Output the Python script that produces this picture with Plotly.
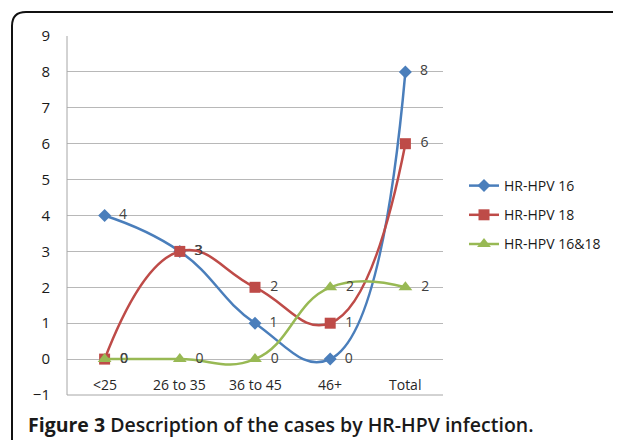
import plotly.graph_objects as go

categories = ["<25", "26 to 35", "36 to 45", "46+", "Total"]
hpv16 = [4, 3, 1, 0, 8]
hpv18 = [0, 3, 2, 1, 6]
hpv1618 = [0, 0, 0, 2, 2]
y_ticks = [-1, 0, 1, 2, 3, 4, 5, 6, 7, 8, 9]

# the page body has an 8px margin, so the figure is drawn 8px in from the corner
OFF = 8
W, H = 621 - OFF, 440 - OFF
L, R, T, B = 67 - OFF, 178, 36 - OFF, 45
pw, ph = W - L - R, H - T - B

def px(x):  # page x -> paper
    return (x - OFF - L) / pw

def py(y):  # page y -> paper
    return (H - B - (y - OFF)) / ph

FONT = "Open Sans"
fig = go.Figure()
series = [
    ("HR-HPV 16", hpv16, "#4A7EBB", "diamond", 10),
    ("HR-HPV 18", hpv18, "#BE4B48", "square", 11),
    ("HR-HPV 16&18", hpv1618, "#98B954", "triangle-up", 12),
]
xs = list(range(len(categories)))
for i, (name, vals, col, sym, sz) in enumerate(series):
    fig.add_trace(go.Scatter(
        x=xs, y=vals, name=name, mode="lines+markers+text",
        line=dict(color=col, width=2.5, shape="spline", smoothing=1.3),
        marker=dict(symbol=sym, size=sz, color=col),
        text=[f"  {v}" for v in vals], textposition="middle right",
        textfont=dict(family=FONT, size=14, color="#404040"),
        legendgroup=f"g{i}", cliponaxis=False,
    ))

for i, c in enumerate(categories):
    fig.add_annotation(x=i, y=-0.72, xref="x", yref="y", text=c, showarrow=False,
                       font=dict(family=FONT, size=14, color="#262626"), yanchor="middle")

r = 14
path = (f"M {px(12)},{py(450)} L {px(12)},{py(12 + r)} "
        f"Q {px(12)},{py(12)} {px(12 + r)},{py(12)} L {px(630)},{py(12)}")
fig.add_shape(type="path", path=path, xref="paper", yref="paper",
              line=dict(color="#111111", width=2))
fig.add_shape(type="line", xref="paper", yref="paper", x0=0, x1=0, y0=0, y1=1,
              line=dict(color="#A6A6A6", width=1))
fig.add_shape(type="line", xref="paper", yref="paper", x0=0, x1=1, y0=0, y1=0,
              line=dict(color="#A6A6A6", width=1))

fig.add_annotation(xref="paper", yref="paper", x=px(26), y=py(424), xanchor="left",
                   yanchor="middle", showarrow=False,
                   text="<b>Figure 3</b> Description of the cases by HR-HPV infection.",
                   font=dict(family=FONT, size=19.5, color="#1a1a1a", weight=600))

fig.update_layout(
    width=W, height=H, margin=dict(l=L, r=R, t=T, b=B, autoexpand=False),
    paper_bgcolor="white", plot_bgcolor="white",
    showlegend=True,
    legend=dict(x=px(464), y=py(170), xanchor="left", yanchor="top",
                font=dict(family=FONT, size=14, color="#1a1a1a"),
                tracegroupgap=8, bgcolor="rgba(0,0,0,0)"),
    xaxis=dict(range=[-0.5, 4.5], showticklabels=False, showgrid=False,
               zeroline=False, showline=False, fixedrange=True),
    yaxis=dict(range=[-1, 9], tickvals=y_ticks, showgrid=True, gridcolor="#B8B8B8",
               gridwidth=1, zeroline=False, showline=False,
               tickfont=dict(family=FONT, size=15, color="#1a1a1a"),
               ticks="", ticklabelstandoff=16),
)
fig.write_html("out.html")
